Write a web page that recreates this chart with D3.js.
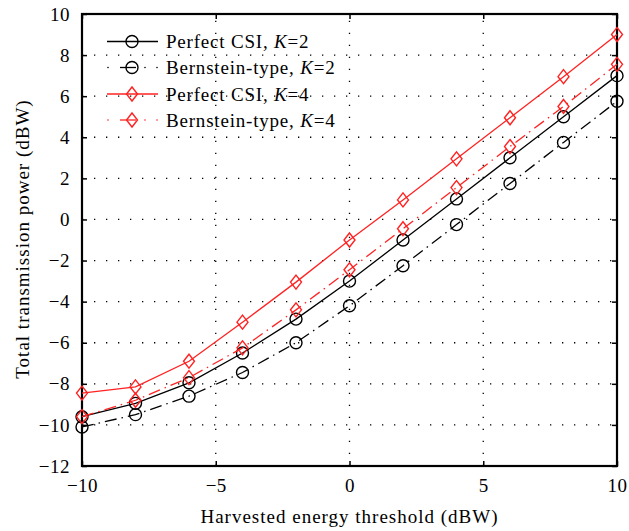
<!DOCTYPE html>
<html>
<head>
  <meta charset="UTF-8">
  <style>
    body { margin: 0; background: #fff; }
    text { font-family: "Liberation Serif", "Times New Roman", serif; fill: #000; }
  </style>
</head>
<body>
<svg></svg>
<script src="https://d3js.org/d3.v7.min.js"></script>
<script>

let width = 629, height = 531;

let xs = [-10, -8, -6, -4, -2, 0, 2, 4, 6, 8, 10];
let perfectK2 = [-9.6, -8.95, -7.95, -6.5, -4.85, -3.0, -1.0, 1.0, 3.0, 5.0, 7.0];
let bernK2 = [-10.1, -9.5, -8.6, -7.45, -6.0, -4.2, -2.25, -0.25, 1.75, 3.75, 5.75];
let perfectK4 = [-8.45, -8.15, -6.9, -5.0, -3.05, -1.0, 0.95, 2.95, 4.95, 6.95, 9.0];
let bernK4 = [-9.6, -8.8, -7.7, -6.25, -4.4, -2.45, -0.45, 1.55, 3.55, 5.5, 7.55];

let xTicks = [-10, -5, 0, 5, 10];
let yTicks = [-12, -10, -8, -6, -4, -2, 0, 2, 4, 6, 8, 10];

let seriesNames = ["Perfect CSI, K=2", "Bernstein-type, K=2", "Perfect CSI, K=4", "Bernstein-type, K=4"];

let series = [
    {name: seriesNames[0], values: perfectK2, color: "#000", dash: null, marker: "circle"},
    {name: seriesNames[1], values: bernK2, color: "#000", dash: "12,5,1.5,5", marker: "circle"},
    {name: seriesNames[2], values: perfectK4, color: "#f22", dash: null, marker: "diamond"},
    {name: seriesNames[3], values: bernK4, color: "#f22", dash: "12,5,1.5,5", marker: "diamond"}
];

let margin = {left: 82, right: 12, top: 14, bottom: 65};

let svg = d3.select("svg")
    .attr("width", width)
    .attr("height", height);

let x = d3.scaleLinear().domain([-10, 10]).range([margin.left, width - margin.right]);
let y = d3.scaleLinear().domain([-12, 10]).range([height - margin.bottom, margin.top]);

// dotted grid
let grid = svg.append("g");
grid.selectAll(".gx")
    .data(xTicks.slice(1, -1))
    .enter().append("line")
    .attr("x1", d => x(d)).attr("x2", d => x(d))
    .attr("y1", y(-12)).attr("y2", y(10))
    .attr("stroke", "#000").attr("stroke-width", 1.3)
    .attr("stroke-dasharray", "1.3,10.7");
grid.selectAll(".gy")
    .data(yTicks.slice(1, -1))
    .enter().append("line")
    .attr("y1", d => y(d)).attr("y2", d => y(d))
    .attr("x1", x(-10)).attr("x2", x(10))
    .attr("stroke", "#000").attr("stroke-width", 1.3)
    .attr("stroke-dasharray", "1.3,10.7");

// axes with inward ticks
let fmt = d => d < 0 ? "\u2212" + Math.abs(d) : d;
let axB = d3.axisBottom(x).tickValues(xTicks).tickSizeInner(-5).tickSizeOuter(0).tickPadding(13).tickFormat(fmt);
let axT = d3.axisTop(x).tickValues(xTicks).tickSizeInner(-5).tickSizeOuter(0).tickFormat("");
let axL = d3.axisLeft(y).tickValues(yTicks).tickSizeInner(-5).tickSizeOuter(0).tickPadding(12).tickFormat(fmt);
let axR = d3.axisRight(y).tickValues(yTicks).tickSizeInner(-5).tickSizeOuter(0).tickFormat("");

function styleAxis(g) {
    g.select(".domain").remove();
    g.selectAll(".tick line").attr("stroke", "#000").attr("stroke-width", 1.5);
    g.selectAll("text").style("font-size", "19px").attr("fill", "#000")
        .style("letter-spacing", "0.5px")
        .style("font-family", "'Liberation Serif', serif");
}

svg.append("g").attr("transform", "translate(0," + y(-12) + ")").call(axB).call(styleAxis);
svg.append("g").attr("transform", "translate(0," + y(10) + ")").call(axT).call(styleAxis);
svg.append("g").attr("transform", "translate(" + x(-10) + ",0)").call(axL).call(styleAxis);
svg.append("g").attr("transform", "translate(" + x(10) + ",0)").call(axR).call(styleAxis);

svg.append("rect")
    .attr("x", x(-10)).attr("y", y(10))
    .attr("width", x(10) - x(-10)).attr("height", y(-12) - y(10))
    .attr("fill", "none").attr("stroke", "#000").attr("stroke-width", 2.2);

let line = d3.line().x((d, i) => x(xs[i])).y(d => y(d));

function drawMarker(g, type, cx, cy, color) {
    if (type === "circle") {
        g.append("circle").attr("cx", cx).attr("cy", cy).attr("r", 6)
            .attr("fill", "none").attr("stroke", color).attr("stroke-width", 1.4);
    } else {
        g.append("path")
            .attr("d", "M" + cx + "," + (cy - 7) + "L" + (cx + 5.5) + "," + cy + "L" + cx + "," + (cy + 7) + "L" + (cx - 5.5) + "," + cy + "Z")
            .attr("fill", "none").attr("stroke", color).attr("stroke-width", 1.4);
    }
}

let plot = svg.append("g");
series.forEach(s => {
    plot.append("path")
        .attr("d", line(s.values))
        .attr("fill", "none")
        .attr("stroke", s.color)
        .attr("stroke-width", 1.3)
        .attr("stroke-dasharray", s.dash);
    s.values.forEach((v, i) => drawMarker(plot, s.marker, x(xs[i]), y(v), s.color));
});

// legend
let legend = svg.append("g");
let legY = [41.5, 67.5, 94, 120];
series.forEach((s, i) => {
    let ly = legY[i];
    if (s.dash) {
        legend.append("circle").attr("cx", 108).attr("cy", ly).attr("r", 0.8).attr("fill", s.color);
        legend.append("circle").attr("cx", 145).attr("cy", ly).attr("r", 0.8).attr("fill", s.color);
        legend.append("circle").attr("cx", 157).attr("cy", ly).attr("r", 0.8).attr("fill", s.color);
        legend.append("line").attr("x1", 120).attr("x2", 136).attr("y1", ly).attr("y2", ly)
            .attr("stroke", s.color).attr("stroke-width", 1.3);
    } else {
        legend.append("line").attr("x1", 107).attr("x2", 158).attr("y1", ly).attr("y2", ly)
            .attr("stroke", s.color).attr("stroke-width", 1.3);
    }
    drawMarker(legend, s.marker, 132, ly, s.color);
    let parts = s.name.split("K=");
    let t = legend.append("text").attr("x", 166).attr("y", ly + 6.5)
        .style("font-size", "19px").style("letter-spacing", "0.8px");
    t.append("tspan").text(parts[0]);
    t.append("tspan").style("font-style", "italic").text("K");
    t.append("tspan").text("=" + parts[1]);
});

// axis titles
svg.append("text")
    .attr("x", x(0)).attr("y", 523)
    .attr("text-anchor", "middle")
    .style("font-size", "19px")
    .style("letter-spacing", "1px")
    .text("Harvested energy threshold (dBW)");

svg.append("text")
    .attr("transform", "translate(29,239) rotate(-90)")
    .attr("text-anchor", "middle")
    .style("font-size", "19px")
    .style("letter-spacing", "1px")
    .text("Total transmission power (dBW)");

</script>
</body>
</html>
